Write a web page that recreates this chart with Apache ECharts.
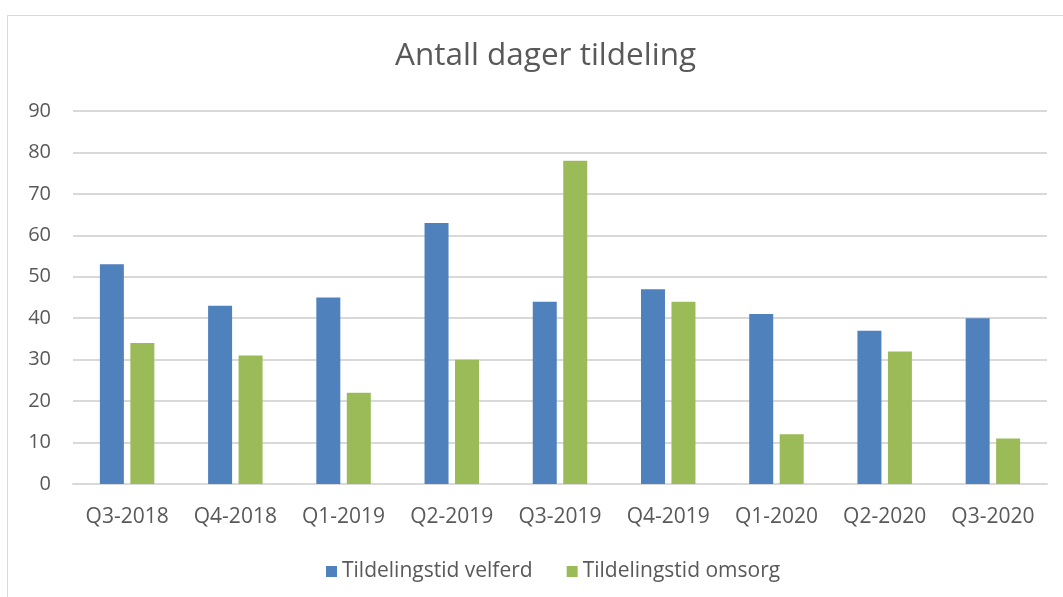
<!DOCTYPE html>
<html>
<head>
<meta charset="utf-8">
<script src="https://cdn.jsdelivr.net/npm/echarts@6/dist/echarts.min.js"></script>
<style>
html,body{margin:0;padding:0;background:#fff;overflow:hidden;}
#frame{position:absolute;left:7px;top:15px;width:1080px;height:600px;border:1px solid #d9d9d9;box-sizing:border-box;}
#chart{position:absolute;left:0;top:0;width:1063px;height:597px;}
</style>
</head>
<body>
<div id="frame"></div>
<div id="chart"></div>
<script>
var categories = ['Q3-2018','Q4-2018','Q1-2019','Q2-2019','Q3-2019','Q4-2019','Q1-2020','Q2-2020','Q3-2020'];
var velferd = [53, 43, 45, 63, 44, 47, 41, 37, 40];
var omsorg = [34, 31, 22, 30, 78, 44, 12, 32, 11];

var chart = echarts.init(document.getElementById('chart'));
chart.setOption({
    title: {
        text: 'Antall dager tildeling',
        left: 390,
        top: 35,
        textStyle: {fontFamily: 'Open Sans', fontSize: 31.5, fontWeight: 'normal', color: '#595959'}
    },
    legend: {
        top: 556,
        left: 321,
        itemWidth: 11,
        itemHeight: 11,
        itemGap: 34,
        icon: 'rect',
        textStyle: {fontFamily: 'Open Sans', fontSize: 21, color: '#595959'},
        data: ['Tildelingstid velferd', 'Tildelingstid omsorg']
    },
    grid: {left: 73, right: 16, top: 111, bottom: 113},
    xAxis: {
        type: 'category',
        data: categories,
        axisLine: {lineStyle: {color: '#d9d9d9', width: 2}},
        axisTick: {show: false},
        axisLabel: {fontFamily: 'Open Sans', fontSize: 21, color: '#595959', margin: 23}
    },
    yAxis: {
        type: 'value',
        min: 0,
        max: 90,
        interval: 10,
        axisLine: {show: false},
        axisTick: {show: false},
        splitLine: {lineStyle: {color: '#d9d9d9', width: 2}},
        axisLabel: {fontFamily: 'Open Sans', fontSize: 20, color: '#595959', margin: 22}
    },
    series: [
        {
            name: 'Tildelingstid velferd',
            type: 'bar',
            barWidth: 24,
            barGap: '27%',
            itemStyle: {color: '#4f81bd'},
            data: velferd
        },
        {
            name: 'Tildelingstid omsorg',
            type: 'bar',
            barWidth: 24,
            itemStyle: {color: '#9bbb59'},
            data: omsorg
        }
    ]
});
</script>
</body>
</html>
